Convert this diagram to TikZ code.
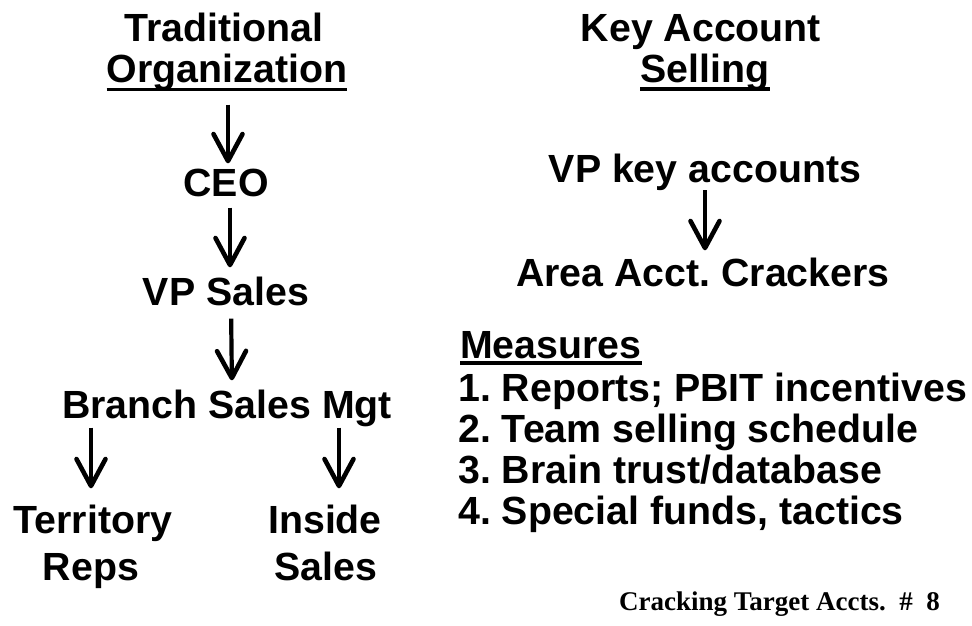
\documentclass[tikz,border=0pt]{standalone}
\usepackage{fontspec}
\setmainfont{Liberation Sans}
\newfontfamily\footfont{Liberation Serif}
\usetikzlibrary{arrows.meta}
\frenchspacing
\tikzset{
  lbl/.style={inner sep=0pt,anchor=base,font=\fontsize{39.3}{39.3}\selectfont\bfseries},
  item/.style={lbl,anchor=base west},
  arr/.style={line width=4.2pt,-{Straight Barb[length=27pt,width=29pt,line width=4.6pt,round]}},
  uline/.style={line width=3.5pt}
}
\begin{document}
\begin{tikzpicture}[x=1pt,y=-1pt]
\useasboundingbox (0,0) rectangle (972,626);
% left side
\node[lbl] (trad) at (224,42) {Traditional};
\node[lbl] (org) at (227,82) {Organization};
\draw[uline] ([yshift=-7.5pt]org.base west) -- ([yshift=-7.5pt]org.base east);
\node[lbl] (ceo) at (226,196) {CEO};
\node[lbl] (vps) at (226,305) {VP Sales};
\node[lbl] (bsm) at (227,418) {Branch Sales Mgt};
\node[lbl] (ter) at (93,533) {Territory};
\node[lbl] (rep) at (91,580) {Reps};
\node[lbl] (ins) at (325,533) {Inside};
\node[lbl] (isl) at (326,580) {Sales};
\draw[arr,shorten <=14pt,shorten >=5pt] ([xshift=1pt]org.south) -- ([xshift=2pt]ceo.north);
\draw[arr,shorten <=11pt,shorten >=9pt] ([xshift=4pt]ceo.south) -- ([xshift=4pt]vps.north);
\draw[arr,shorten <=13pt,shorten >=9pt] ([xshift=5pt]vps.south) -- ([xshift=5pt]bsm.north);
\draw[arr,shorten <=1pt,shorten >=16pt] ([xshift=-2pt]bsm.south -| ter.north) -- ([xshift=-2pt]ter.north);
\draw[arr,shorten <=1pt,shorten >=16pt] ([xshift=14pt]bsm.south -| ins.north) -- ([xshift=14pt]ins.north);
% right side
\node[lbl] (key) at (701,42) {Key Account};
\node[lbl] (sel) at (705,82) {Selling};
\draw[uline] ([yshift=-7pt]sel.base west) -- ([yshift=-7pt]sel.base east);
\node[lbl] (vpk) at (705,182) {VP key accounts};
\node[lbl] (area) at (703,286) {Area Acct. Crackers};
\draw[arr,shorten <=0pt,shorten >=7pt] (vpk.south) -- (vpk.south |- area.north);
\node[item] (meas) at (460,358) {Measures};
\draw[uline] ([yshift=-5pt]meas.base west) -- ([yshift=-5pt]meas.base east);
\node[item] (m1) at (458,401) {1. Reports; PBIT incentives};
\node[item] (m2) at (458,442) {2. Team selling schedule};
\node[item] (m3) at (458,483) {3. Brain trust/database};
\node[item] (m4) at (458,524) {4. Special funds, tactics};
\node[inner sep=0pt,anchor=base east,font=\footfont\fontsize{27}{27}\selectfont\bfseries] (foot) at (940,610) {Cracking Target Accts.~~\#~~8};
\end{tikzpicture}
\end{document}
